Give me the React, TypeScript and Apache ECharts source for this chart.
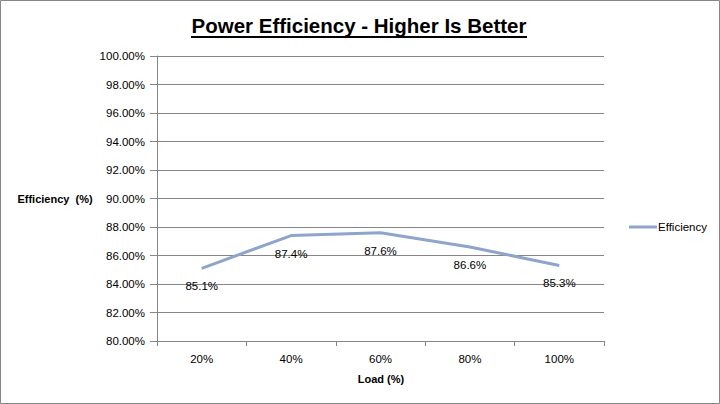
import React, { useEffect, useRef } from "react";
import * as echarts from "echarts";

const categories = ["20%", "40%", "60%", "80%", "100%"];
const efficiency = [85.1, 87.4, 87.6, 86.6, 85.3];
const seriesName = "Efficiency";
const titleText = "Power Efficiency - Higher Is Better";
const yAxisTitle = "Efficiency  (%)";
const xAxisTitle = "Load (%)";

export default function App() {
  const ref = useRef<HTMLDivElement>(null);
  useEffect(() => {
    document.body.style.margin = "0";
    const chart = echarts.init(ref.current!, null, { renderer: "svg" });
    const tickFont = "'Liberation Sans', Arial, sans-serif";
    chart.setOption({
      animation: false,
      backgroundColor: "#ffffff",
      grid: { left: 157, right: 116, top: 56, bottom: 63 },
      legend: {
        left: 624,
        top: 216,
        icon: "rect",
        itemWidth: 28,
        itemHeight: 3,
        itemGap: 2,
        textStyle: { fontFamily: tickFont, fontSize: 11.5, color: "#000", padding: [0, 0, 0, -4] },
        data: [seriesName],
      },
      xAxis: {
        type: "category",
        data: categories,
        boundaryGap: true,
        axisLine: { lineStyle: { color: "#868686", width: 1 } },
        axisTick: { show: true, length: 5, lineStyle: { color: "#868686" } },
        axisLabel: { margin: 12, fontFamily: tickFont, fontSize: 11.5, color: "#000" },
        splitLine: { show: false },
      },
      yAxis: {
        type: "value",
        min: 80,
        max: 100,
        interval: 2,
        axisLine: { show: true, lineStyle: { color: "#868686", width: 1 } },
        axisTick: { show: true, length: 7, lineStyle: { color: "#868686" } },
        axisLabel: {
          margin: 12,
          fontFamily: tickFont,
          fontSize: 11.5,
          color: "#000",
          formatter: (v: number) => v.toFixed(2) + "%",
        },
        splitLine: { show: true, lineStyle: { color: "#868686", width: 1 } },
      },
      series: [
        {
          name: seriesName,
          type: "line",
          data: efficiency,
          showSymbol: true,
          symbol: "circle",
          symbolSize: 0,
          color: "#8EA5CB",
          lineStyle: { color: "#8EA5CB", width: 3 },
          label: {
            show: true,
            position: "bottom",
            distance: 12,
            fontFamily: tickFont,
            fontSize: 11.5,
            color: "#000",
            formatter: (p: any) => p.value.toFixed(1) + "%",
          },
        },
      ],
      graphic: [
        {
          type: "rect",
          shape: { x: 0.5, y: 0.5, width: 719, height: 403 },
          style: { fill: "none", stroke: "#868686", lineWidth: 1 },
          silent: true,
        },
        {
          type: "text",
          x: 359,
          y: 25,
          style: {
            text: titleText,
            fontFamily: "'Liberation Sans', sans-serif",
            fontWeight: "bold",
            fontSize: 20.5,
            fill: "#000",
            align: "center",
            verticalAlign: "middle",
          },
        },
        {
          type: "line",
          shape: { x1: 191, y1: 37, x2: 527, y2: 37 },
          style: { stroke: "#000", lineWidth: 2 },
        },
        {
          type: "text",
          x: 55,
          y: 199,
          style: {
            text: yAxisTitle,
            fontFamily: tickFont,
            fontWeight: "bold",
            fontSize: 11,
            fill: "#000",
            align: "center",
            verticalAlign: "middle",
          },
        },
        {
          type: "text",
          x: 381,
          y: 379,
          style: {
            text: xAxisTitle,
            fontFamily: tickFont,
            fontWeight: "bold",
            fontSize: 11,
            fill: "#000",
            align: "center",
            verticalAlign: "middle",
          },
        },
      ],
    });
    return () => chart.dispose();
  }, []);
  return <div ref={ref} style={{ width: 720, height: 404 }} />;
}
